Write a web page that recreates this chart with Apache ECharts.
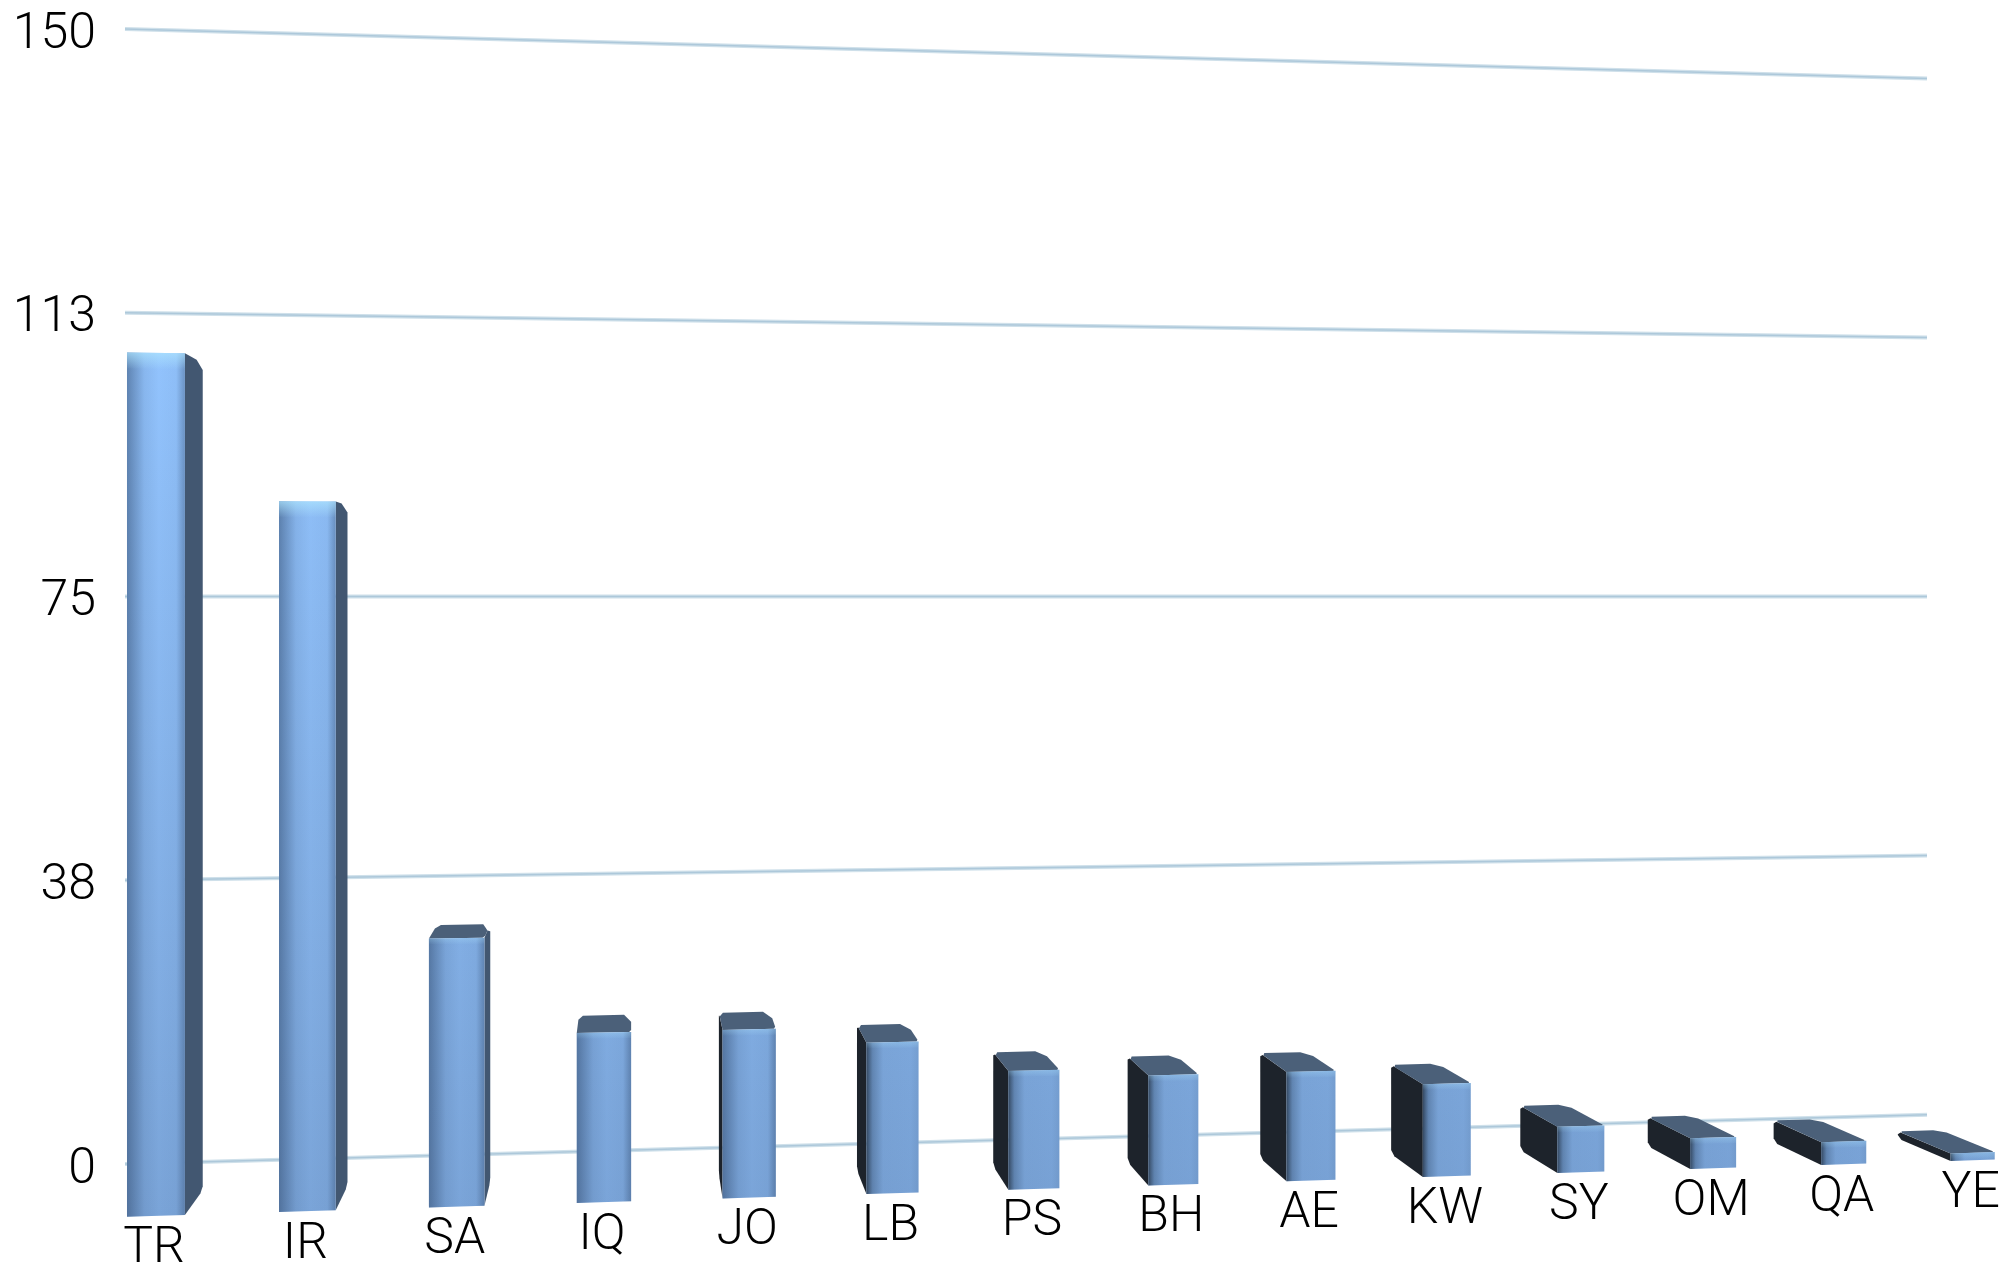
<!DOCTYPE html>
<html>
<head>
<meta charset="utf-8">
<style>
  html, body { margin: 0; padding: 0; background: #fff; }
  #main { width: 2006px; height: 1265px; }
</style>
<script src="https://cdn.jsdelivr.net/npm/echarts@6/dist/echarts.min.js"></script>
</head>
<body>
<div id="main"></div>
<script>
var categories = ['TR', 'IR', 'SA', 'IQ', 'JO', 'LB', 'PS', 'BH', 'AE', 'KW', 'SY', 'OM', 'QA', 'YE'];
var values = [104.5, 86.6, 33, 21, 21, 19, 15, 14, 14, 12, 6, 4, 3, 1];
var tickValues = [0, 37.5, 75, 112.5, 150];

var fontName = '300 50px Roboto, "Liberation Sans", sans-serif';

// the picture is a tilted 3d chart, so pixels from the axes get bent here
var horizonY = 597;
var wallShrink = 0.087;      // right end of the back wall vs left end
var depthK = 0.04;           // how far a bar runs towards the vanishing point
var vanishX = 630;
var vanishY = 600;
var frontLeft = 156, frontGain = 1982, frontBend = 0.091;
var frontScaleA = 8.27 / 7.567, frontScaleB = 7.51 / 7.567;

function wallPoint(gx, gy, rect) {
  var s = 1 - wallShrink * (gx - rect.x) / rect.width;
  return [gx, horizonY + (gy - horizonY) * s];
}

// front plane of the bars
function frontPoint(t, gy) {
  var x = frontLeft + frontGain * t / (1 + frontBend * t);
  var s = frontScaleA + (frontScaleB - frontScaleA) * (x - 127) / 1863;
  return [x, horizonY + (gy - horizonY) * s];
}

function backPoint(p) {
  return [p[0] + depthK * (vanishX - p[0]), p[1] + depthK * (vanishY - p[1])];
}

// cut corners a little so the boxes look rounded, r per corner
function bevel(pts, rs) {
  var out = [];
  for (var i = 0; i < pts.length; i++) {
    var p = pts[i], a = pts[(i + pts.length - 1) % pts.length], b = pts[(i + 1) % pts.length];
    var la = Math.hypot(a[0] - p[0], a[1] - p[1]) || 1, lb = Math.hypot(b[0] - p[0], b[1] - p[1]) || 1;
    var ra = Math.min(rs[i], la / 2), rb = Math.min(rs[i], lb / 2);
    out.push([p[0] + (a[0] - p[0]) * ra / la, p[1] + (a[1] - p[1]) * ra / la]);
    out.push([p[0] + (b[0] - p[0]) * rb / lb, p[1] + (b[1] - p[1]) * rb / lb]);
  }
  return out;
}

function poly(pts, fill) {
  return { type: 'polygon', shape: { points: pts }, style: { fill: fill } };
}

function hGrad(stops) {
  return new echarts.graphic.LinearGradient(0, 0, 1, 0, stops);
}

function renderGridLine(params, api) {
  var rect = params.coordSys;
  var v = api.value(0);
  var gy = api.coord([0, v])[1];
  var a = wallPoint(rect.x, gy, rect);
  var b = wallPoint(rect.x + rect.width, gy, rect);
  return {
    type: 'group',
    children: [
      { type: 'line', shape: { x1: a[0], y1: a[1], x2: b[0], y2: b[1] }, style: { stroke: '#cfe0ea', lineWidth: 4 } },
      { type: 'line', shape: { x1: a[0], y1: a[1], x2: b[0], y2: b[1] }, style: { stroke: '#adc8da', lineWidth: 1.5 } },
      {
        type: 'text',
        style: {
          x: a[0] - 29,
          y: a[1] + 6,
          text: String(Math.round(v)),
          fill: '#000',
          font: fontName,
          align: 'right',
          verticalAlign: 'middle'
        }
      }
    ]
  };
}

function renderBar(params, api) {
  var i = api.value(0);
  var g0 = api.coord([0, 0])[0];
  var span = api.coord([categories.length - 1, 0])[0] - g0;
  var c = api.coord([i, api.value(1)]);
  var base = api.coord([i, 0]);
  var t = (c[0] - g0) / span;
  var dt = (0.19 - 0.018 * t) / (categories.length - 1);

  var fTL = frontPoint(t - dt, c[1]), fTR = frontPoint(t + dt, c[1]);
  var fBL = frontPoint(t - dt, base[1]), fBR = frontPoint(t + dt, base[1]);
  var bTL = backPoint(fTL), bTR = backPoint(fTR), bBL = backPoint(fBL), bBR = backPoint(fBR);
  var mid = frontPoint(t, base[1]);
  var tall = fTL[1] < vanishY;

  var kids = [];
  // side faces, only the one turned to the camera
  if (bTR[0] > fTR[0] + 1) {
    kids.push(poly(bevel([fTR, bTR, bBR, fBR], [0, 7, 4, 0]), '#425771'));
  }
  if (bTL[0] < fTL[0] - 1) {
    kids.push(poly(bevel([bTL, fTL, fBL, bBL], [3, 0, 0, 4]), '#1d232b'));
  }
  // top face, hidden on the bars that end over the eye line
  if (!tall) {
    kids.push(poly(bevel([bTL, bTR, fTR, fTL], [4, 7, 2, 0]), '#4b6079'));
  }
  // front face
  var front = [fTL, fTR, fBR, fBL];
  kids.push(poly(front, new echarts.graphic.LinearGradient(0, 350, 0, 1215, [
    { offset: 0, color: '#92c3fd' },
    { offset: 1, color: '#7aa4d8' }
  ], true)));
  var leftDark = bTL[0] < fTL[0] - 8;
  kids.push(poly(front, hGrad(leftDark ? [
    { offset: 0, color: 'rgba(22,32,44,0.7)' },
    { offset: 0.12, color: 'rgba(30,50,75,0.3)' },
    { offset: 0.32, color: 'rgba(30,50,75,0.05)' },
    { offset: 0.85, color: 'rgba(30,50,75,0.03)' },
    { offset: 1, color: 'rgba(30,50,75,0.1)' }
  ] : [
    { offset: 0, color: 'rgba(25,45,75,0.42)' },
    { offset: 0.3, color: 'rgba(25,45,75,0.08)' },
    { offset: 0.55, color: 'rgba(25,45,75,0)' },
    { offset: 0.85, color: 'rgba(25,45,75,0.03)' },
    { offset: 1, color: 'rgba(25,45,75,0.32)' }
  ])));
  // pale rim along the top of the front
  var rim = tall ? 16 : 6;
  var rimAlpha = tall ? 0.7 : 0.3;
  kids.push(poly([fTL, fTR, [fTR[0], fTR[1] + rim], [fTL[0], fTL[1] + rim]],
    new echarts.graphic.LinearGradient(0, 0, 0, 1, [
      { offset: 0, color: 'rgba(175,230,255,' + rimAlpha + ')' },
      { offset: 1, color: 'rgba(175,230,255,0)' }
    ])));

  kids.push({
    type: 'text',
    style: {
      x: mid[0] - 2,
      y: mid[1] + 34,
      text: categories[i],
      fill: '#000',
      font: fontName,
      align: 'center',
      verticalAlign: 'middle'
    }
  });
  return { type: 'group', children: kids };
}

var chart = echarts.init(document.getElementById('main'), null, { width: 2006, height: 1265 });

chart.setOption({
  animation: false,
  backgroundColor: '#fff',
  grid: { left: 125, top: 29, width: 1802, height: 1135, containLabel: false },
  xAxis: {
    type: 'category',
    data: categories,
    show: false
  },
  yAxis: {
    type: 'value',
    min: 0,
    max: 150,
    interval: 37.5,
    axisLine: { show: false },
    axisTick: { show: false },
    splitLine: { show: false },
    axisLabel: { show: false }
  },
  series: [
    {
      type: 'custom',
      z: 1,
      clip: false,
      renderItem: renderGridLine,
      data: tickValues.map(function (v) { return [v]; }),
      encode: { y: 0 }
    },
    {
      type: 'custom',
      z: 2,
      clip: false,
      renderItem: renderBar,
      data: categories.map(function (c, i) { return [i, values[i]]; }),
      encode: { x: 0, y: 1 }
    }
  ]
});
</script>
</body>
</html>
